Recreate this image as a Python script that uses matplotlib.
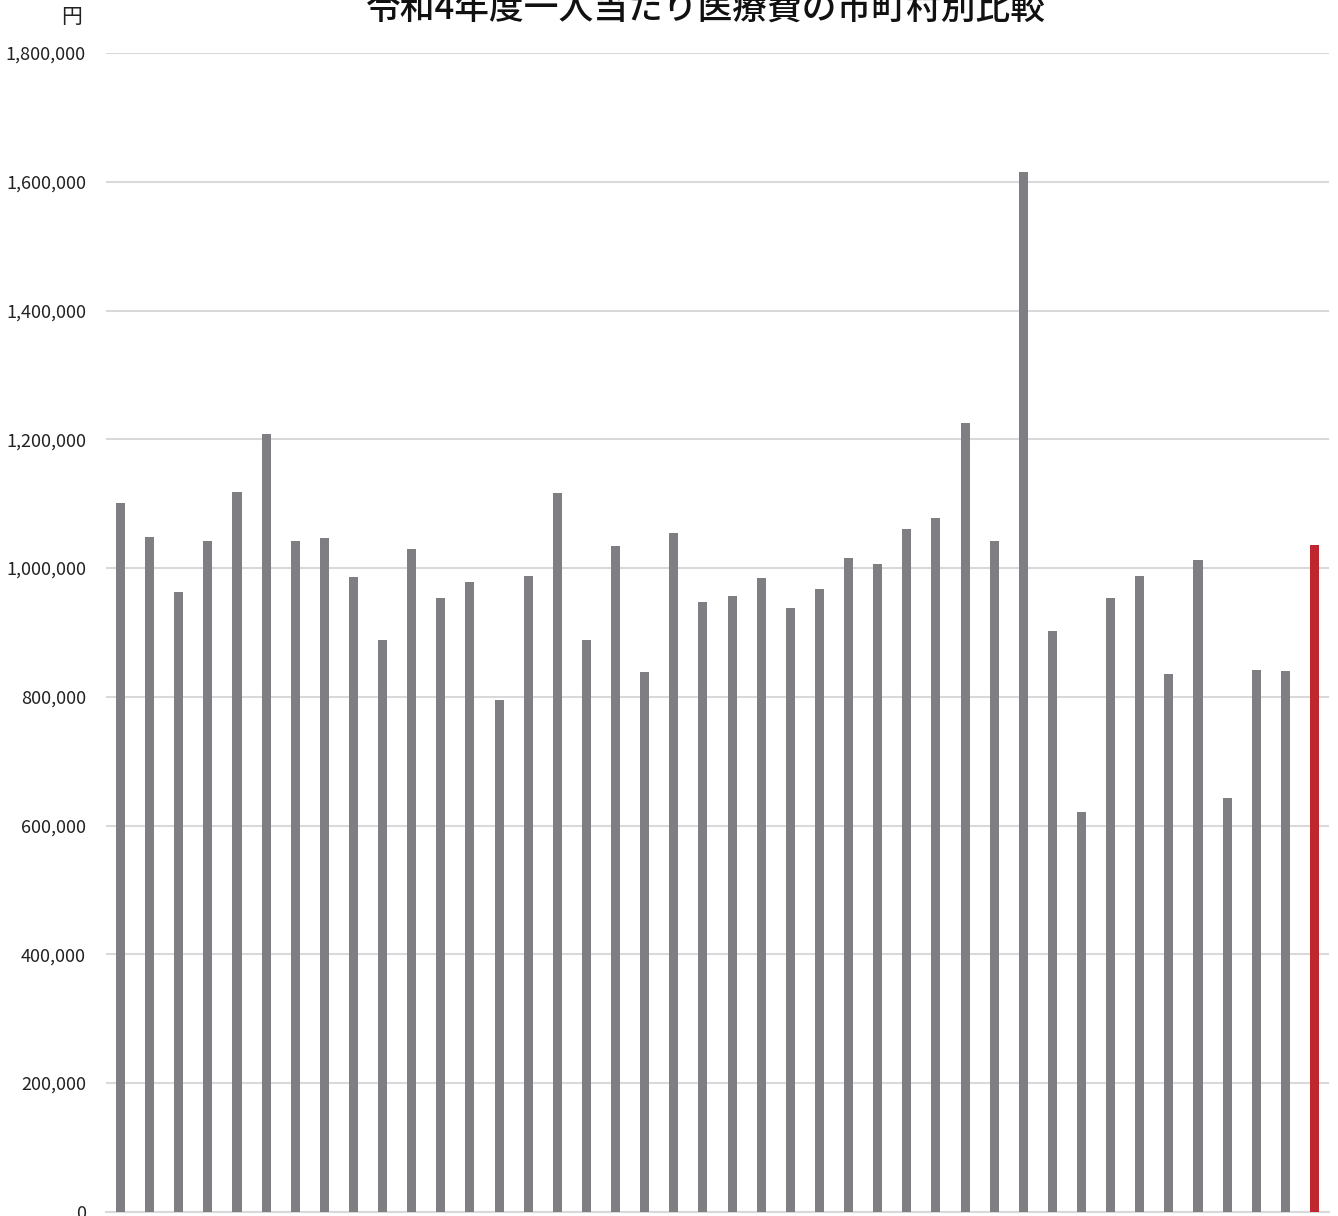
import matplotlib.pyplot as plt
from matplotlib.ticker import FuncFormatter

plt.rcParams['font.family'] = ['Noto Sans CJK JP', 'DejaVu Sans']

title = "令和4年度一人当たり医療費の市町村別比較"
unit = "円"

# 一人当たり医療費 (円), 左から順に; 最後の1本は全体平均 (赤)
values = [
    1100900, 1048300, 963200, 1042700, 1117500, 1208900, 1041200, 1046300,
    986000, 888400, 1030200, 953900, 978800, 795300, 988200, 1116400,
    888400, 1033800, 839000, 1054600, 946500, 955900, 985000, 937600,
    967300, 1015600, 1006900, 1059900, 1077500, 1225600, 1041700, 1614900,
    901800, 620700, 953600, 988100, 835700, 1012500, 642600, 841100,
    839900, 1036300,
]
highlight = [len(values) - 1]

yticks = [0, 200000, 400000, 600000, 800000, 1000000, 1200000, 1400000, 1600000, 1800000]

gray = "#7f7f83"
red = "#c0262f"
colors = [red if i in highlight else gray for i in range(len(values))]

fig = plt.figure(figsize=(13.38, 12.16), dpi=100)
ax = fig.add_axes([0.0792, 0.0035, 0.9141, 0.9529])

x = list(range(len(values)))
ax.bar(x, values, width=0.31, color=colors, zorder=3)

ax.set_xlim(-0.5, len(values) - 0.5)
ax.set_ylim(0, 1800000)
ax.set_yticks(yticks)
ax.yaxis.set_major_formatter(FuncFormatter(lambda v, p: f"{int(v):,}"))
ax.set_xticks([])
ax.tick_params(axis="y", length=0, pad=14.4, labelsize=13, labelcolor="#222222")
ax.grid(axis="y", color="#d9d9d9", linewidth=1.5, zorder=0)
for side in ["top", "right", "left"]:
    ax.spines[side].set_visible(False)
ax.spines["bottom"].set_color("#d9d9d9")
ax.spines["bottom"].set_linewidth(1.5)

fig.text(72 / 1338, 1 - 17 / 1216, unit, ha="center", va="center", fontsize=15, color="#222222")
fig.text(706 / 1338, 1 - 10 / 1216, title, ha="center", va="center", fontsize=25,
         fontweight="medium", color="#111111")

fig.savefig("out.png", dpi=100)
